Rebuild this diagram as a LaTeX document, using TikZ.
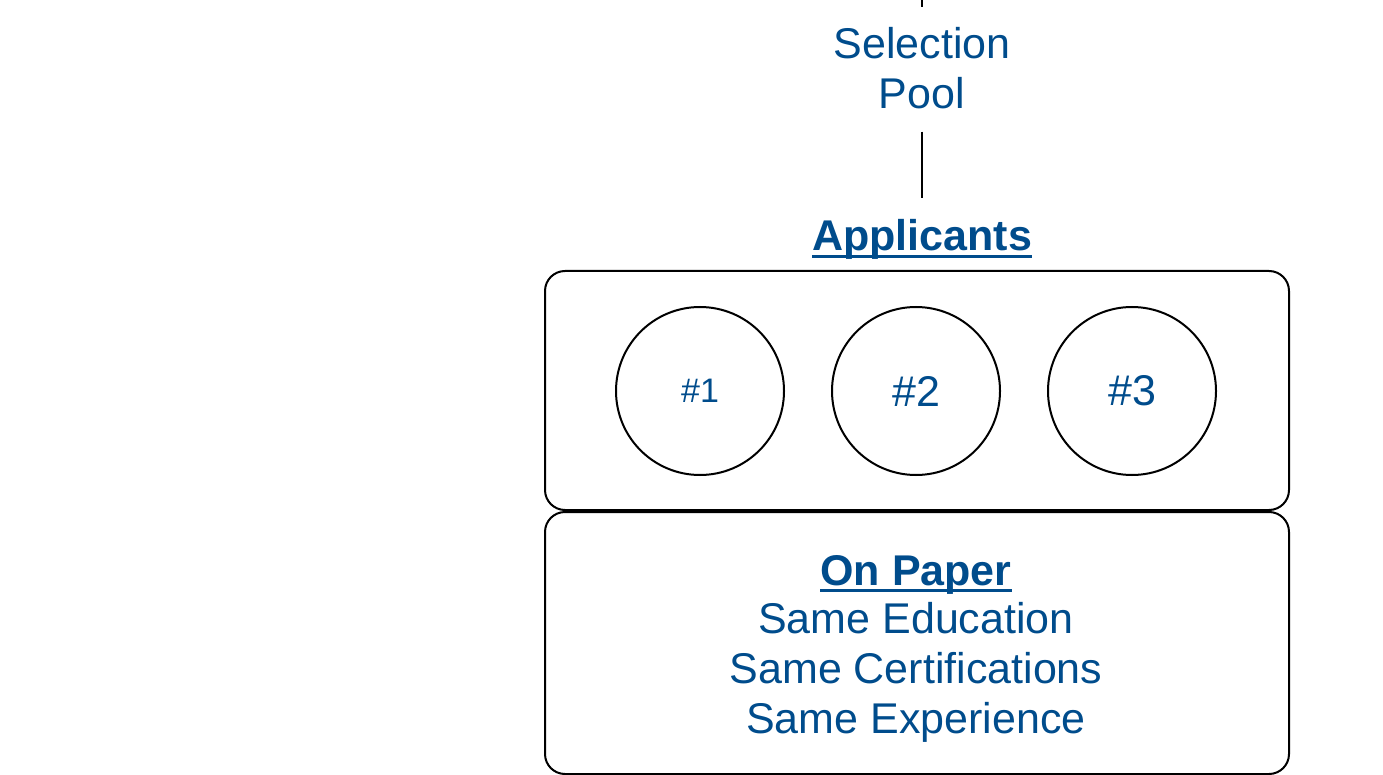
\documentclass[tikz,border=0pt]{standalone}
\usepackage{fontspec}
\setmainfont{Liberation Sans}
\definecolor{txt}{RGB}{0,76,140}
\newcommand\myul[1]{\setbox0\hbox{#1}\rlap{\rule[-7pt]{\wd0}{3pt}}\box0}
\begin{document}
\begin{tikzpicture}[x=1pt,y=-1pt,
  lbl/.style={text=txt, font=\fontsize{43}{50}\selectfont, inner sep=0pt, align=center},
  boldlbl/.style={lbl, font=\bfseries\fontsize{43}{50}\selectfont},
  panel/.style={draw, line width=2pt, rounded corners=20pt, minimum width=744pt, inner sep=0pt},
  circ/.style={draw, circle, line width=2pt, minimum size=168pt, inner sep=0pt, text=txt, font=\fontsize{43}{50}\selectfont},
  link/.style={line width=2.2pt}]
\useasboundingbox (0,0) rectangle (1383,775);
% panels
\node[panel, minimum height=239pt, anchor=north west] (toppanel) at (544,270) {};
\node[panel, minimum height=262pt, anchor=north west] (botpanel) at (544,511) {};
% circles
\node[circ, font=\fontsize{34}{40}\selectfont] (c1) at (700,391) {\#1};
\node[circ] (c2) at (916,391) {\#2};
\node[circ] (c3) at (1132,391) {\#3};
% texts
\node[lbl, anchor=base] (sel) at (922,109) {Selection\\Pool};
\node[boldlbl, anchor=base] (app) at (922,251) {\myul{Applicants}};
\node[lbl, anchor=base] (paper) at (916,733) {\myul{\textbf{On Paper}}\\[-2pt]Same Education\\Same Certifications\\Same Experience};
% connectors
\coordinate (topend) at (922,0);
\draw[link] (topend) -- ([yshift=21pt]sel.north);
\draw[link] ([yshift=-22pt]sel.south) -- ([yshift=22pt]app.north);
\end{tikzpicture}
\end{document}
